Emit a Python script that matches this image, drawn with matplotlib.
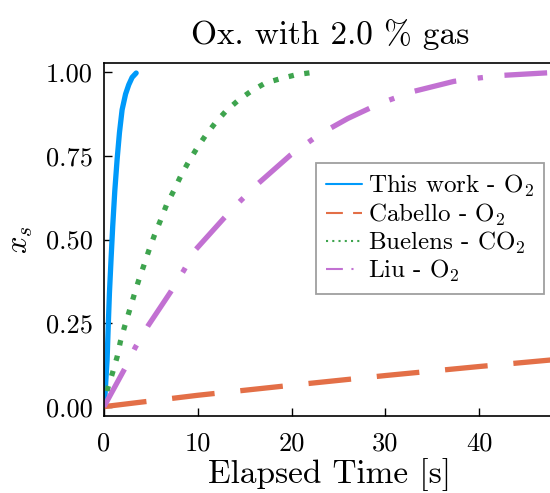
import matplotlib
matplotlib.use("Agg")
import matplotlib.pyplot as plt

plt.rcParams.update({
    "font.family": "serif",
    "font.serif": ["cmr10"],
    "mathtext.fontset": "cm",
    "axes.unicode_minus": False,
    "axes.formatter.use_mathtext": True,
})

# ---- data ----
title = "Ox. with 2.0 % gas"
xlabel = "Elapsed Time [s]"
ylabel = "$x_s$"

labels = ["This work - O$_2$", "Cabello - O$_2$", "Buelens - CO$_2$", "Liu - O$_2$"]
colors = ["#009AFA", "#E36F47", "#3EA44E", "#C271D2"]

this_work_t = [0, 0.1, 0.2, 0.33, 0.45, 0.58, 0.75, 0.93, 1.15, 1.40, 1.65, 1.93, 2.3,
               2.64, 3.0, 3.43]
this_work_x = [0, 0.03, 0.08, 0.14, 0.24, 0.34, 0.44, 0.54, 0.645, 0.74, 0.82, 0.888,
               0.935, 0.963, 0.985, 0.998]

cabello_t = [0, 10, 20, 30, 40, 48.2]
cabello_x = [0, 0.034, 0.064, 0.093, 0.120, 0.141]

buelens_t = [0, 0.43, 0.93, 1.4, 1.75, 2.2, 2.71, 3.2, 3.7, 4.28, 4.77, 5.38, 6.02,
             6.66, 7.44, 8.15, 8.97, 9.86, 10.8, 11.9, 13.0, 14.3, 15.7, 17.2, 18.8,
             20.5, 22.3]
buelens_x = [0, 0.058, 0.103, 0.149, 0.195, 0.24, 0.287, 0.333, 0.378, 0.425, 0.466,
             0.513, 0.557, 0.603, 0.646, 0.688, 0.73, 0.771, 0.81, 0.85, 0.884, 0.916,
             0.944, 0.968, 0.981, 0.993, 1.0]

liu_t = [0, 2.2, 3.35, 4.7, 7.1, 8.5, 9.75, 12.8, 14.6, 16.5, 19.9, 23, 26, 29.5, 33.0,
         37.3, 39.9, 42.5, 46.9, 48.2]
liu_x = [0, 0.113, 0.178, 0.242, 0.343, 0.407, 0.469, 0.564, 0.617, 0.669, 0.753, 0.815,
         0.862, 0.908, 0.943, 0.973, 0.983, 0.991, 0.998, 1.0]

xticks = [0, 10, 20, 30, 40]
yticks = [0.0, 0.25, 0.5, 0.75, 1.0]
yticklabels = ["0.00", "0.25", "0.50", "0.75", "1.00"]

# ---- figure ----
W, H = 550, 493
fig = plt.figure(figsize=(W / 100, H / 100), dpi=100)
L, R, T, B = 104, 556, 63, 416
ax = fig.add_axes([L / W, 1 - B / H, (R - L) / W, (B - T) / H])

lw = 3.8
ax.plot(this_work_t, this_work_x, color=colors[0], lw=lw, solid_capstyle="round",
        solid_joinstyle="round", label=labels[0])
ax.plot(cabello_t, cabello_x, color=colors[1], lw=lw, linestyle=(0, (8.1, 4.9)),
        dash_capstyle="butt", label=labels[1])
ax.plot(buelens_t, buelens_x, color=colors[2], lw=lw, linestyle=(0, (1.0, 2.0)),
        dash_capstyle="butt", label=labels[2])
ax.plot(liu_t, liu_x, color=colors[3], lw=lw, linestyle=(0, (8.1, 4.1, 1.0, 4.1)),
        dash_capstyle="butt", label=labels[3])

ax.set_xlim(0, 48.2)
ax.set_ylim(-0.028, 1.028)
ax.set_xticks(xticks)
ax.set_xticklabels([str(v) for v in xticks])
ax.set_yticks(yticks)
ax.set_yticklabels(yticklabels)
ax.tick_params(direction="in", length=6, width=1.0, labelsize=19, pad=8,
               top=False, right=False)
ax.tick_params(axis="x", pad=11)
for s in ax.spines.values():
    s.set_linewidth(1.2)

ax.set_title(title, fontsize=24, pad=14)
ax.set_xlabel(xlabel, fontsize=24, labelpad=2)
ax.set_ylabel(ylabel, fontsize=22, labelpad=8)

leg = ax.legend(loc="upper left", bbox_to_anchor=(316 / W, 1 - 163 / H),
                bbox_transform=fig.transFigure, fontsize=18, frameon=True,
                fancybox=False, borderpad=0.4, handlelength=1.45,
                handletextpad=0.25, labelspacing=0.08, borderaxespad=0)
leg.get_frame().set_edgecolor("#888888")
leg.get_frame().set_linewidth(1.3)
for line in leg.get_lines():
    line.set_linewidth(1.5)

fig.savefig("out.png", dpi=100)
